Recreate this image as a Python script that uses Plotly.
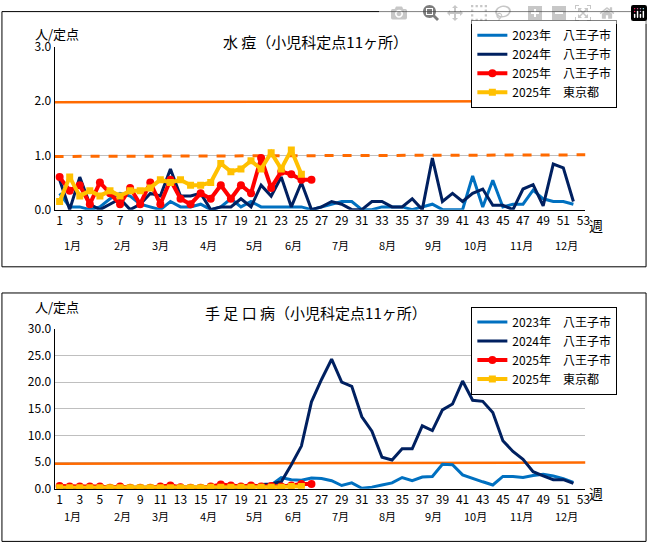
import plotly.graph_objects as go

weeks = list(range(1, 53))
weeks25_hachioji = list(range(1, 27))
weeks25_tokyo = list(range(1, 26))

# 水痘
vz_2023 = [0.3, 0.05, 0.05, 0.0, 0.05, 0.2, 0.3, 0.25, 0.1, 0.05, 0.0, 0.15, 0.05, 0.05, 0.1, 0.0,
           0.05, 0.2, 0.05, 0.15, 0.05, 0.05, 0.05, 0.05, 0.05, 0.0, 0.05, 0.1, 0.15, 0.15, 0.0, 0.0,
           0.05, 0.05, 0.05, 0.0, 0.05, 0.1, 0.0, 0.0, 0.0, 0.62, 0.05, 0.54, 0.05, 0.1, 0.1, 0.36,
           0.2, 0.15, 0.15, 0.1]
vz_2024 = [0.55, 0.0, 0.6, 0.1, 0.0, 0.1, 0.2, 0.0, 0.1, 0.3, 0.25, 0.75, 0.25, 0.25, 0.3, 0.0,
           0.05, 0.05, 0.2, 0.05, 0.45, 0.25, 0.6, 0.05, 0.5, 0.0, 0.05, 0.15, 0.1, 0.0, 0.0, 0.15,
           0.15, 0.05, 0.05, 0.2, 0.0, 0.95, 0.15, 0.3, 0.15, 0.3, 0.38, 0.08, 0.08, 0.0, 0.38, 0.46,
           0.07, 0.84, 0.77, 0.15]
vz_2025 = [0.6, 0.35, 0.45, 0.1, 0.5, 0.3, 0.1, 0.4, 0.1, 0.5, 0.1, 0.55, 0.2, 0.1, 0.3, 0.2,
           0.45, 0.2, 0.45, 0.3, 0.95, 0.4, 0.7, 0.65, 0.55, 0.55]
vz_tokyo = [0.15, 0.6, 0.25, 0.35, 0.25, 0.35, 0.25, 0.35, 0.35, 0.4, 0.55, 0.5, 0.55, 0.45, 0.45,
            0.5, 0.85, 0.7, 0.75, 0.9, 0.75, 1.05, 0.75, 1.1, 0.65]
vz_alert = [1.98, 2.0]
vz_warn = [0.98, 1.01]

# 手足口病
hfm_2023 = [0.3] * 20 + [0.5, 0.7, 2.1, 1.7, 1.6, 2.0, 1.9, 1.5, 0.6, 1.1, 0.1, 0.3, 0.7, 1.1, 2.1,
                         1.5, 2.2, 2.3, 4.6, 4.5, 2.6, 1.9, 1.3, 0.7, 2.3, 2.3, 2.1, 2.5, 2.7, 2.4,
                         1.9, 1.2]
hfm_2024 = [0.1] * 20 + [0.8, 0.9, 1.3, 4.5, 8.0, 16.3, 20.5, 24.3, 20.0, 19.2, 13.5, 10.8, 5.9,
                         5.4, 7.5, 7.5, 11.8, 10.9, 14.8, 15.9, 20.2, 16.6, 16.4, 14.3, 9.0, 7.0,
                         5.5, 3.2, 2.4, 1.7, 1.7, 1.0]
hfm_2025 = [0.5, 0.4, 0.4, 0.4, 0.4, 0.2, 0.4, 0.2, 0.2, 0.2, 0.4, 0.6, 0.3, 0.2, 0.2, 0.4, 0.8,
            0.6, 0.4, 0.6, 0.4, 0.5, 0.4, 0.6, 0.9, 0.9]
hfm_tokyo = [0.2] * 15 + [0.3] * 8 + [0.4, 0.4]
hfm_alert = [4.7, 4.9]

month_labels = ["1月", "2月", "3月", "4月", "5月", "6月", "7月", "8月", "9月", "10月", "11月", "12月"]
month_weeks = [2.3, 7.2, 11.0, 15.8, 20.3, 24.2, 28.9, 33.5, 38.1, 42.3, 46.8, 51.3]

C23, C24, C25, CTK, COR = "#0070C0", "#002060", "#FF0000", "#FFC000", "#FF6A00"
FONT = "Noto Sans CJK JP"

fig = go.Figure()


def add_panel(xa, ya, lg, d23, d24, d25, dtk):
    fig.add_trace(go.Scatter(x=weeks, y=d23, mode="lines", name="2023年　八王子市",
                             line=dict(color=C23, width=3), xaxis=xa, yaxis=ya, legend=lg))
    fig.add_trace(go.Scatter(x=weeks, y=d24, mode="lines", name="2024年　八王子市",
                             line=dict(color=C24, width=3), xaxis=xa, yaxis=ya, legend=lg))
    fig.add_trace(go.Scatter(x=weeks25_hachioji, y=d25, mode="lines+markers", name="2025年　八王子市",
                             line=dict(color=C25, width=4), marker=dict(symbol="circle", size=8),
                             xaxis=xa, yaxis=ya, legend=lg))
    fig.add_trace(go.Scatter(x=weeks25_tokyo, y=dtk, mode="lines+markers", name="2025年　東京都",
                             line=dict(color=CTK, width=4), marker=dict(symbol="square", size=7),
                             xaxis=xa, yaxis=ya, legend=lg))


# 閾値線
fig.add_trace(go.Scatter(x=[0.5, 53.2], y=vz_alert, mode="lines", line=dict(color=COR, width=2.5),
                         showlegend=False, xaxis="x", yaxis="y"))
fig.add_trace(go.Scatter(x=[0.5, 53.2], y=vz_warn, mode="lines",
                         line=dict(color=COR, width=3, dash="dash"), showlegend=False, xaxis="x", yaxis="y"))
fig.add_trace(go.Scatter(x=[0.5, 53.2], y=hfm_alert, mode="lines", line=dict(color=COR, width=2.5),
                         showlegend=False, xaxis="x2", yaxis="y2"))

add_panel("x", "y", "legend", vz_2023, vz_2024, vz_2025, vz_tokyo)
add_panel("x2", "y2", "legend2", hfm_2023, hfm_2024, hfm_2025, hfm_tokyo)

xcommon = dict(range=[0.5, 53.2], domain=[55 / 653, 590 / 653], tickmode="array",
               tickvals=list(range(1, 54, 2)), showgrid=False, showline=True, linecolor="black",
               ticks="", tickfont=dict(size=12, color="black"), fixedrange=True)
fig.update_layout(
    width=653, height=550, margin=dict(l=0, r=0, t=0, b=0),
    paper_bgcolor="white", plot_bgcolor="white",
    font=dict(family=FONT, color="black"),
    xaxis=dict(**xcommon, anchor="y"),
    yaxis=dict(range=[0, 3], domain=[(550 - 206) / 550, (550 - 38) / 550], dtick=1,
               tickformat=".1f", showgrid=True, gridcolor="#BFBFBF", showline=True,
               linecolor="black", zeroline=False, anchor="x", tickfont=dict(size=12)),
    xaxis2=dict(**xcommon, anchor="y2"),
    yaxis2=dict(range=[0, 30], domain=[(550 - 494) / 550, (550 - 329) / 550], dtick=5,
                tickformat=".1f", showgrid=True, gridcolor="#BFBFBF", showline=True,
                linecolor="black", zeroline=False, anchor="x2", tickfont=dict(size=12)),
    legend=dict(x=475 / 653, y=1 - 10 / 550, xanchor="left", yanchor="top", bgcolor="white",
                bordercolor="black", borderwidth=1, font=dict(size=12), tracegroupgap=0,
                itemwidth=30),
    legend2=dict(x=475 / 653, y=1 - 306 / 550, xanchor="left", yanchor="top", bgcolor="white",
                 bordercolor="black", borderwidth=1, font=dict(size=12), tracegroupgap=0,
                 itemwidth=30),
    shapes=[
        dict(type="rect", xref="paper", yref="paper", x0=0.003, x1=0.997,
             y0=1 - 265 / 550, y1=0.997, line=dict(color="black", width=1)),
        dict(type="rect", xref="paper", yref="paper", x0=0.003, x1=0.997,
             y0=0.003, y1=1 - 292 / 550, line=dict(color="black", width=1)),
    ],
)

ann = [
    dict(x=318 / 653, y=1 - 20 / 550, text="水 痘（小児科定点11ヶ所）", font=dict(size=15)),
    dict(x=318 / 653, y=1 - 312 / 550, text="手 足 口 病（小児科定点11ヶ所）", font=dict(size=15)),
    dict(x=33 / 653, y=1 - 12 / 550, text="人/定点", font=dict(size=13)),
    dict(x=33 / 653, y=1 - 306 / 550, text="人/定点", font=dict(size=13)),
    dict(x=610 / 653, y=1 - 222 / 550, text="週", font=dict(size=14)),
    dict(x=610 / 653, y=1 - 511 / 550, text="週", font=dict(size=14)),
]
for a in ann:
    fig.add_annotation(xref="paper", yref="paper", showarrow=False, **a)
for xr, yy in (("x", 1 - 243 / 550), ("x2", 1 - 532 / 550)):
    for lab, w in zip(month_labels, month_weeks):
        fig.add_annotation(x=w, y=yy, xref=xr, yref="paper", text=lab, showarrow=False,
                           font=dict(size=11))

fig.write_html("out.html", post_script="document.body.style.margin='0';document.body.style.overflow='hidden';")
